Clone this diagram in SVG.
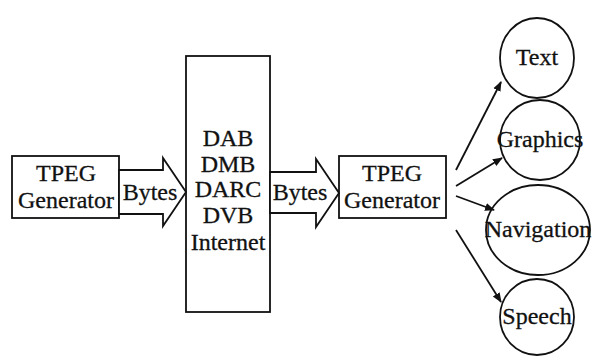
<svg xmlns="http://www.w3.org/2000/svg" width="600" height="360" viewBox="0 0 600 360">
<style>
.s{fill:#fff;stroke:#111;stroke-width:1.8}
.t{font-family:"Liberation Serif","Times New Roman",serif;font-size:24px;fill:#111;stroke:#111;stroke-width:0.3;text-anchor:middle}
.c{stroke:#111;stroke-width:1.8;fill:none}
</style>
<defs>
<marker id="ah" viewBox="0 0 10 10" refX="9" refY="5" markerWidth="10" markerHeight="10" markerUnits="userSpaceOnUse" orient="auto">
<path d="M0,1 L10,5 L0,9 Z" fill="#111"/>
</marker>
</defs>
<rect width="600" height="360" fill="#fff"/>
<g id="gen1">
<rect class="s" x="12" y="156" width="107" height="62"/>
<text class="t" x="66" y="181">TPEG</text>
<text class="t" x="66" y="208">Generator</text>
</g>
<g id="net">
<rect class="s" x="186" y="56" width="84" height="256"/>
<text class="t" x="228" y="146">DAB</text>
<text class="t" x="228" y="172">DMB</text>
<text class="t" x="228" y="197">DARC</text>
<text class="t" x="228" y="223">DVB</text>
<text class="t" x="228" y="250">Internet</text>
</g>
<g id="gen2">
<rect class="s" x="339" y="156" width="107" height="62"/>
<text class="t" x="392" y="181">TPEG</text>
<text class="t" x="392" y="208">Generator</text>
</g>
<g id="text">
<ellipse class="s" cx="537" cy="58" rx="37" ry="40"/>
<text class="t" x="537" y="65">Text</text>
</g>
<g id="graphics">
<ellipse class="s" cx="540" cy="140" rx="40" ry="40"/>
<text class="t" x="540" y="147">Graphics</text>
</g>
<g id="navigation">
<ellipse class="s" cx="538" cy="230" rx="52" ry="45"/>
<text class="t" x="538" y="237">Navigation</text>
</g>
<g id="speech">
<ellipse class="s" cx="537" cy="317" rx="37" ry="38"/>
<text class="t" x="537" y="324">Speech</text>
</g>
<g id="connectors">
<polygon class="s" points="119,170 163,170 163,158 186,192 163,226 163,214 119,214"/>
<text class="t" x="150" y="200">Bytes</text>
<polygon class="s" points="270,172 316,172 316,159 339,193 316,227 316,213 270,213"/>
<text class="t" x="300" y="200">Bytes</text>
<line class="c" x1="456" y1="170" x2="501" y2="82" marker-end="url(#ah)"/>
<line class="c" x1="456" y1="186" x2="502" y2="158" marker-end="url(#ah)"/>
<line class="c" x1="456" y1="196" x2="494" y2="210" marker-end="url(#ah)"/>
<line class="c" x1="456" y1="230" x2="501" y2="302" marker-end="url(#ah)"/>
</g>
</svg>
